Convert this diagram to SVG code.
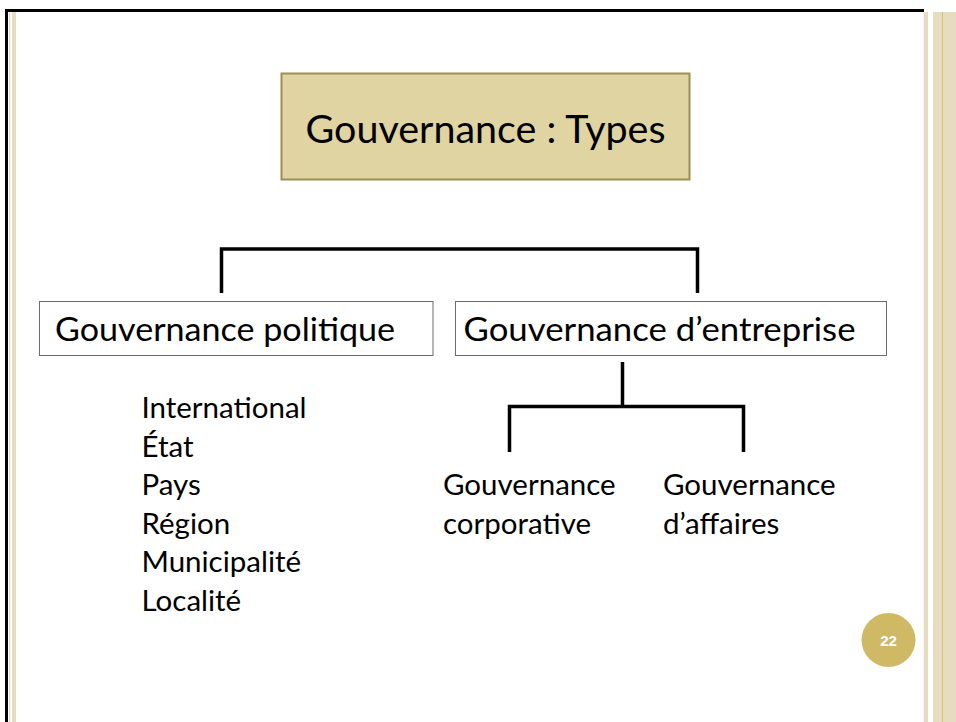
<svg xmlns="http://www.w3.org/2000/svg" width="956" height="722" viewBox="0 0 956 722">
  <style>
    .t { font-family: Lato, "Open Sans", "Liberation Sans", sans-serif; fill: #000; }
    .box { fill: #fff; stroke: #6b6b6b; stroke-width: 1; }
    .conn { fill: none; stroke: #000; stroke-width: 3.5; stroke-linecap: butt; stroke-linejoin: miter; }
    .stripe { fill: #E6DDC0; }
  </style>
  <rect width="956" height="722" fill="#fff"/>
  <g id="frame">
    <rect x="5" y="9" width="3" height="713" fill="#000"/>
    <rect x="5" y="9" width="919" height="3" fill="#000"/>
    <rect x="9" y="12" width="1.2" height="710" class="stripe"/>
    <rect x="12" y="12" width="4" height="710" class="stripe"/>
    <rect x="923.7" y="12" width="4.3" height="710" class="stripe"/>
    <rect x="933" y="12" width="23" height="710" class="stripe"/>
    <rect x="942" y="12" width="1" height="710" fill="#D4BF78"/>
  </g>
  <g id="node-title">
    <rect x="281.5" y="73.5" width="408" height="106" fill="#DFD4A2" stroke="#9E8E55" stroke-width="2"/>
    <text class="t" x="485.5" y="143" font-size="38.5" text-anchor="middle" textLength="360" lengthAdjust="spacingAndGlyphs">Gouvernance : Types</text>
  </g>
  <g id="connectors">
    <path class="conn" d="M221.5 293 V249 H697.5 V293"/>
    <path class="conn" d="M622.5 362 V406.5"/>
    <path class="conn" d="M509.5 452 V406.5 H743.5 V452"/>
  </g>
  <g id="node-politique">
    <rect class="box" x="39.5" y="301.5" width="393.5" height="54"/>
    <text class="t" x="55" y="341" font-size="33" textLength="340" lengthAdjust="spacingAndGlyphs">Gouvernance politique</text>
  </g>
  <g id="node-entreprise">
    <rect class="box" x="455.5" y="301.5" width="431" height="54"/>
    <text class="t" x="463.5" y="341" font-size="33" textLength="392" lengthAdjust="spacingAndGlyphs">Gouvernance d’entreprise</text>
  </g>
  <g id="list-politique" class="t" font-size="29.5">
    <text x="141.5" y="418">International</text>
    <text x="141.5" y="456.5">État</text>
    <text x="141.5" y="495">Pays</text>
    <text x="141.5" y="533.5">Région</text>
    <text x="141.5" y="572">Municipalité</text>
    <text x="141.5" y="610.5">Localité</text>
  </g>
  <g id="node-corporative" class="t" font-size="29.5">
    <text x="443" y="495">Gouvernance</text>
    <text x="443" y="533.5">corporative</text>
  </g>
  <g id="node-affaires" class="t" font-size="29.5">
    <text x="663" y="495">Gouvernance</text>
    <text x="663" y="533.5">d’affaires</text>
  </g>
  <g id="page-number">
    <circle cx="888.5" cy="640" r="27" fill="#CFB965"/>
    <text x="888.5" y="645.5" font-family="'Liberation Sans', Arial, sans-serif" font-weight="bold" font-size="15" fill="#fff" text-anchor="middle">22</text>
  </g>
</svg>
